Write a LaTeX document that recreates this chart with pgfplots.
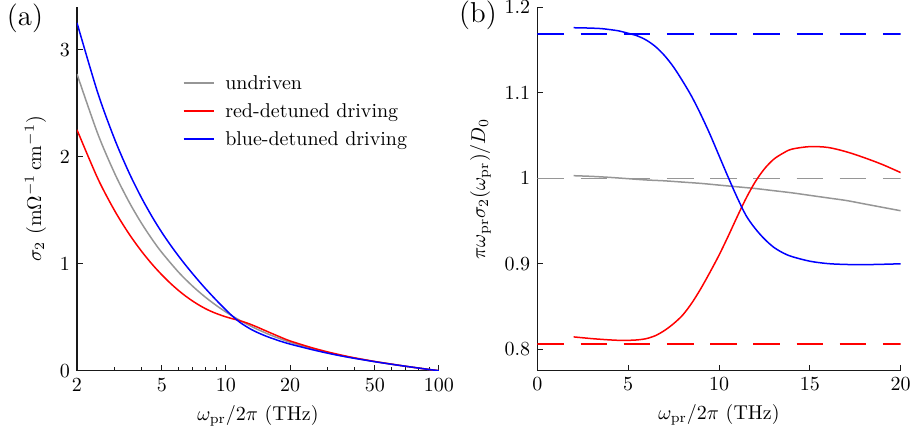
\documentclass[border=0pt]{standalone}
\usepackage{pgfplots}
\pgfplotsset{compat=1.18}
\definecolor{ugray}{rgb}{0.59,0.59,0.59}
\definecolor{rdrive}{rgb}{1,0,0}
\definecolor{bdrive}{rgb}{0,0,1}
\definecolor{axk}{rgb}{0.1,0.1,0.1}

% short coloured rule used as a legend sample
\newcommand{\legline}[1]{\textcolor{#1}{\rule[2.5pt]{15pt}{1pt}}\hspace{5.8pt}}

% sigma_2 (mOhm^-1 cm^-1) versus omega_pr/2pi (THz)
\pgfplotstableread{
w      s
2      2.7748
2.5    2.2190
3      1.8484
3.5    1.5834
4      1.3847
4.5    1.2300
5      1.1061
6      0.9203
7      0.7880
8      0.6885
9      0.6111
10     0.5489
11     0.4980
12     0.4556
13     0.4194
14     0.3885
16     0.3379
18     0.2982
20     0.2661
25     0.208
30     0.168
35     0.140
40     0.118
50     0.085
60     0.061
70     0.041
80     0.025
90     0.011
100    0.000
}\sundriven
\pgfplotstableread{
w      s
2      2.2533
2.5    1.8004
3      1.4985
3.5    1.2832
4      1.1218
4.5    0.9966
5      0.8969
5.5    0.8159
6      0.7493
6.5    0.6946
7      0.6497
7.5    0.6123
8      0.5810
8.5    0.5559
9      0.5355
9.5    0.5184
10     0.5035
10.5   0.4911
11     0.4804
11.5   0.4701
12     0.4592
12.5   0.4475
13     0.4350
14     0.4087
15     0.3825
16     0.3583
18     0.3148
20     0.2785
25     0.218
30     0.176
35     0.145
40     0.121
50     0.086
60     0.061
70     0.041
80     0.025
90     0.011
100    0.000
}\sred
\pgfplotstableread{
w      s
2      3.2534
2.5    2.6023
3      2.1680
3.5    1.8575
4      1.6237
4.5    1.4410
5      1.2941
5.5    1.1735
6      1.0712
6.5    0.9823
7      0.9041
7.5    0.8338
8      0.7701
8.5    0.7131
9      0.6606
9.5    0.6124
10     0.5680
10.5   0.5277
11     0.4917
11.5   0.4599
12     0.4338
13     0.3912
14     0.3589
15     0.3331
16     0.3113
18     0.2763
20     0.2490
25     0.200
30     0.164
35     0.137
40     0.116
50     0.084
60     0.060
70     0.041
80     0.025
90     0.011
100    0.000
}\sblue

% normalised ratio pi*omega*sigma_2/D_0
\pgfplotstableread{
w      r
2      1.003
3      1.0022
4      1.001
5      0.9995
6      0.998
7      0.997
8      0.9955
9      0.994
10     0.992
11     0.990
12     0.988
13     0.9855
14     0.983
15     0.980
16     0.977
17     0.974
18     0.970
19     0.966
20     0.962
}\rundriven
\pgfplotstableread{
w      r
2      0.8145
2.5    0.8135
3      0.8125
3.5    0.8117
4      0.8110
4.5    0.8105
5      0.8105
5.5    0.8110
6      0.8125
6.5    0.8160
7      0.8220
7.5    0.8300
8      0.8400
8.5    0.8540
9      0.8710
9.5    0.8900
10     0.9100
10.5   0.9320
11     0.9550
11.5   0.9770
12     0.9960
12.5   1.0110
13     1.0220
13.5   1.0290
14     1.0340
15     1.0370
16     1.0360
17     1.0310
18     1.0240
19     1.0160
20     1.0066
}\rred
\pgfplotstableread{
w      r
2      1.1760
2.5    1.1758
3      1.1755
3.5    1.1750
4      1.1738
4.5    1.1722
5      1.1695
5.5    1.1665
6      1.1615
6.5    1.1540
7      1.1435
7.5    1.1300
8      1.1135
8.5    1.0955
9      1.0745
9.5    1.0515
10     1.0265
10.5   1.0015
11     0.9775
11.5   0.9560
12     0.9410
12.5   0.9290
13     0.9195
13.5   0.9130
14     0.9085
15     0.9030
16     0.9002
17     0.8992
18     0.8990
19     0.8994
20     0.9000
}\rblue

\pgfplotsset{
  panel/.style={
    scale only axis,
    axis lines*=left,
    axis line style={draw=axk, line width=0.6pt},
    tick align=inside,
    tick style={draw=axk, line width=0.5pt},
    major tick length=3pt,
    minor tick length=1.8pt,
    every axis plot/.append style={line width=0.75pt},
  },
}

\begin{document}
\begin{tikzpicture}
\path[use as bounding box] (-38.5pt,-33.65pt) rectangle (419pt,185.35pt);

\begin{axis}[panel,
  at={(0pt,0pt)}, anchor=south west,
  width=181pt, height=181.75pt,
  xmode=log, xmin=2, xmax=100,
  ymin=0, ymax=3.4,
  xtick={2,5,10,20,50,100},
  xticklabels={2,5,10,20,50,100},
  minor xtick={3,4,6,7,8,9,30,40,60,70,80,90},
  ytick={0,1,2,3},
  xlabel={$\omega_{\mathrm{pr}}/2\pi$ (THz)},
  ylabel={$\sigma_2\ (\mathrm{m}\Omega^{-1}\,\mathrm{cm}^{-1})$},
  legend cell align=left,
  legend style={at={(rel axis cs:0.277,0.83)}, anchor=north west,
    draw=none, fill=none, row sep=1.5pt, inner sep=1pt},
  legend image code/.code={},
]
\addplot[color=ugray, smooth] table[x=w, y=s] {\sundriven};
\addlegendentry{\legline{ugray}undriven}
\addplot[color=rdrive, smooth] table[x=w, y=s] {\sred};
\addlegendentry{\legline{rdrive}red-detuned driving}
\addplot[color=bdrive, smooth] table[x=w, y=s] {\sblue};
\addlegendentry{\legline{bdrive}blue-detuned driving}
\end{axis}

\begin{axis}[panel,
  at={(230.15pt,0pt)}, anchor=south west,
  width=181.7pt, height=181.75pt,
  xmin=0, xmax=20, ymin=0.775, ymax=1.2,
  xtick={0,5,10,15,20},
  ytick={0.8,0.9,1,1.1,1.2},
  yticklabels={0.8,0.9,1,1.1,1.2},
  xlabel={$\omega_{\mathrm{pr}}/2\pi$ (THz)},
  ylabel={$\pi\omega_{\mathrm{pr}}\sigma_2(\omega_{\mathrm{pr}})/D_0$},
]
\addplot[color=ugray, dash pattern=on 13.3pt off 8.3pt] coordinates {(0,1) (20,1)};
\addplot[color=rdrive, dash pattern=on 13.3pt off 8.3pt] coordinates {(0,0.806) (20,0.806)};
\addplot[color=bdrive, dash pattern=on 13.3pt off 8.3pt] coordinates {(0,1.1687) (20,1.1687)};
\addplot[color=ugray, smooth] table[x=w, y=r] {\rundriven};
\addplot[color=rdrive, smooth] table[x=w, y=r] {\rred};
\addplot[color=bdrive, smooth] table[x=w, y=r] {\rblue};
\end{axis}

\node[font=\Large] at (-26pt,176.35pt) {(a)};
\node[font=\Large] at (200.5pt,177.6pt) {(b)};
\end{tikzpicture}
\end{document}
